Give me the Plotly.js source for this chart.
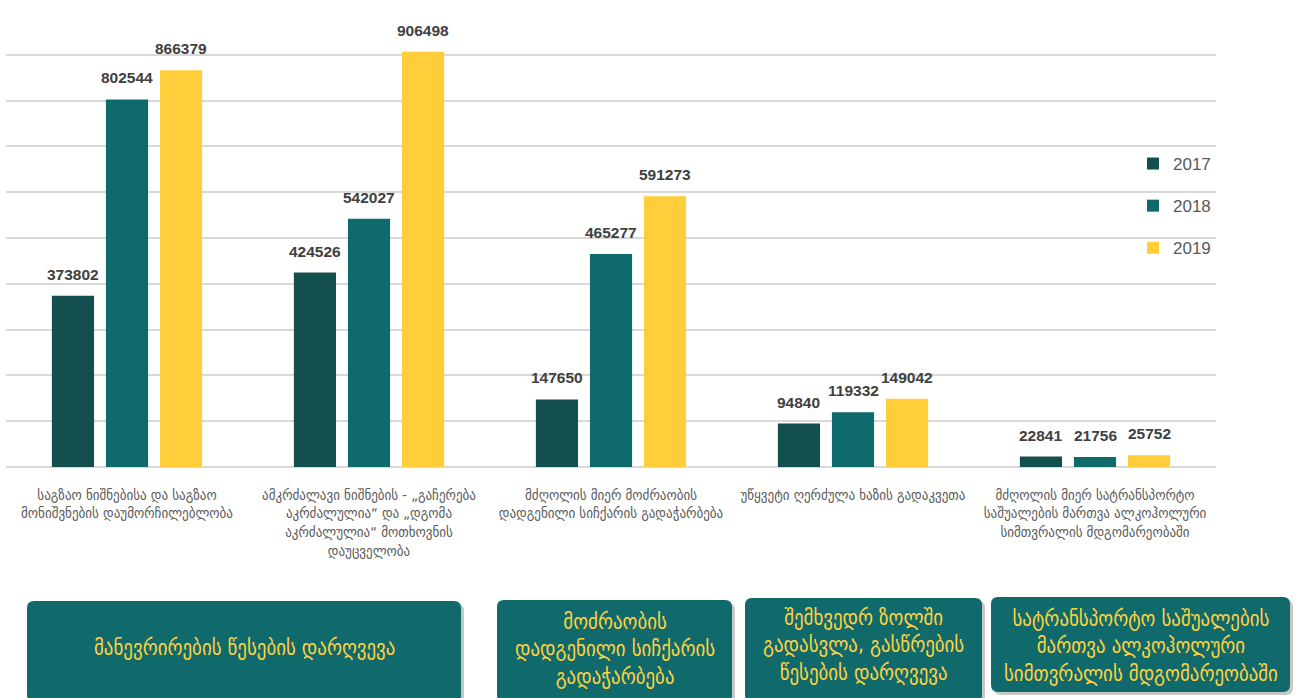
<!DOCTYPE html>
<html>
<head>
<meta charset="utf-8">
<script src="https://cdn.plot.ly/plotly-3.0.1.min.js"></script>
<style>html,body{margin:0;padding:0;background:#fff;}#chart{width:1303px;height:698px;}</style>
</head>
<body>
<div id="chart"></div>
<script>
const categories = [
  "საგზაო ნიშნებისა და საგზაო<br>მონიშვნების დაუმორჩილებლობა",
  "ამკრძალავი ნიშნების - „გაჩერება<br>აკრძალულია“ და „დგომა<br>აკრძალულია“ მოთხოვნის<br>დაუცველობა",
  "მძღოლის მიერ მოძრაობის<br>დადგენილი სიჩქარის გადაჭარბება",
  "უწყვეტი ღერძულა ხაზის გადაკვეთა",
  "მძღოლის მიერ სატრანსპორტო<br>საშუალების მართვა ალკოჰოლური<br>სიმთვრალის მდგომარეობაში"
];
const years = ["2017", "2018", "2019"];
const values2017 = [373802, 424526, 147650, 94840, 22841];
const values2018 = [802544, 542027, 465277, 119332, 21756];
const values2019 = [866379, 906498, 591273, 149042, 25752];
const groupLabels = [
  "მანევრირების წესების დარღვევა",
  "მოძრაობის<br>დადგენილი სიჩქარის<br>გადაჭარბება",
  "შემხვედრ ზოლში<br>გადასვლა, გასწრების<br>წესების დარღვევა",
  "სატრანსპორტო საშუალების<br>მართვა ალკოჰოლური<br>სიმთვრალის მდგომარეობაში"
];
const colors = ["#13504D", "#0F6A6C", "#FFCE3A"];
const series = [values2017, values2018, values2019];

const W = 1303, H = 698;
const M = {l: 6, r: 87, t: 9, b: 231};
const plotW = W - M.l - M.r, plotH = H - M.t - M.b;
const bargap = 0.33;

const traces = series.map((vals, i) => ({
  type: "bar",
  name: years[i],
  x: categories,
  y: vals,
  marker: {color: colors[i]},
  legendgroup: "g" + i,
  hoverinfo: "x+y+name"
}));

// data labels
const slot = plotW / categories.length * (1 - bargap) / series.length;
const annotations = [];
series.forEach((vals, i) => {
  vals.forEach((v, j) => {
    annotations.push({
      x: categories[j], y: v, xref: "x", yref: "y",
      text: String(v), showarrow: false,
      xshift: (i - (series.length - 1) / 2) * slot,
      yanchor: "bottom", yshift: 11,
      font: {family: "Liberation Sans, Arial, sans-serif", size: 15.5, color: "#404040", weight: "bold"}
    });
  });
});

// pixel -> paper helpers
const px = x => (x - M.l) / plotW;
const py = y => (H - M.b - y) / plotH;
function roundBox(x0, y0, x1, y1, r) {
  const rx = r / plotW, ry = r / plotH;
  const L = px(x0), R = px(x1), T = py(y0), B = py(y1);
  return `M${L + rx},${T} L${R - rx},${T} Q${R},${T} ${R},${T - ry} L${R},${B + ry} Q${R},${B} ${R - rx},${B} L${L + rx},${B} Q${L},${B} ${L},${B + ry} L${L},${T - ry} Q${L},${T} ${L + rx},${T} Z`;
}
const boxes = [
  [27, 601, 461, 702, 648],
  [497, 600, 732, 702, 649],
  [745, 598, 982, 702, 645],
  [991, 597, 1290, 692, 646]
];
const shapes = [];
boxes.forEach((b, k) => {
  shapes.push({type: "path", xref: "paper", yref: "paper", path: roundBox(b[0] + 3, b[1] + 3, b[2] + 3, b[3] + 3, 7),
    fillcolor: "rgba(0,0,0,0.22)", line: {width: 0}, layer: "above"});
  shapes.push({type: "path", xref: "paper", yref: "paper", path: roundBox(b[0], b[1], b[2], b[3], 7),
    fillcolor: "#106A6C", line: {width: 0}, layer: "above"});
  annotations.push({
    xref: "paper", yref: "paper", x: px((b[0] + b[2]) / 2), y: py(b[4]),
    xanchor: "center", yanchor: "middle", showarrow: false,
    text: groupLabels[k],
    font: {family: "DejaVu Sans Condensed, DejaVu Sans, sans-serif", size: 21, color: "#FFD23F"}
  });
});

const layout = {
  width: W, height: H,
  margin: M,
  paper_bgcolor: "#ffffff", plot_bgcolor: "#ffffff",
  barmode: "group", bargap: bargap, bargroupgap: 0.22,
  showlegend: true,
  legend: {x: px(1133), y: py(146), xanchor: "left", yanchor: "top", bgcolor: "rgba(0,0,0,0)",
    tracegroupgap: 17, traceorder: "grouped", itemwidth: 30,
    font: {family: "Liberation Sans, Arial, sans-serif", size: 17, color: "#595959"}},
  xaxis: {type: "category", showgrid: false, zeroline: false, showline: false, ticks: "",
    ticklabelstandoff: 17,
    tickfont: {family: "DejaVu Sans Condensed, DejaVu Sans, sans-serif", size: 14.5, color: "#595959"}},
  yaxis: {range: [0, 1000000], dtick: 100000, showticklabels: false, showgrid: true,
    gridcolor: "#D9D9D9", gridwidth: 2, zeroline: true, zerolinecolor: "#D9D9D9", zerolinewidth: 2},
  annotations: annotations,
  shapes: shapes
};

Plotly.newPlot("chart", traces, layout, {displayModeBar: false, responsive: false});
</script>
</body>
</html>
